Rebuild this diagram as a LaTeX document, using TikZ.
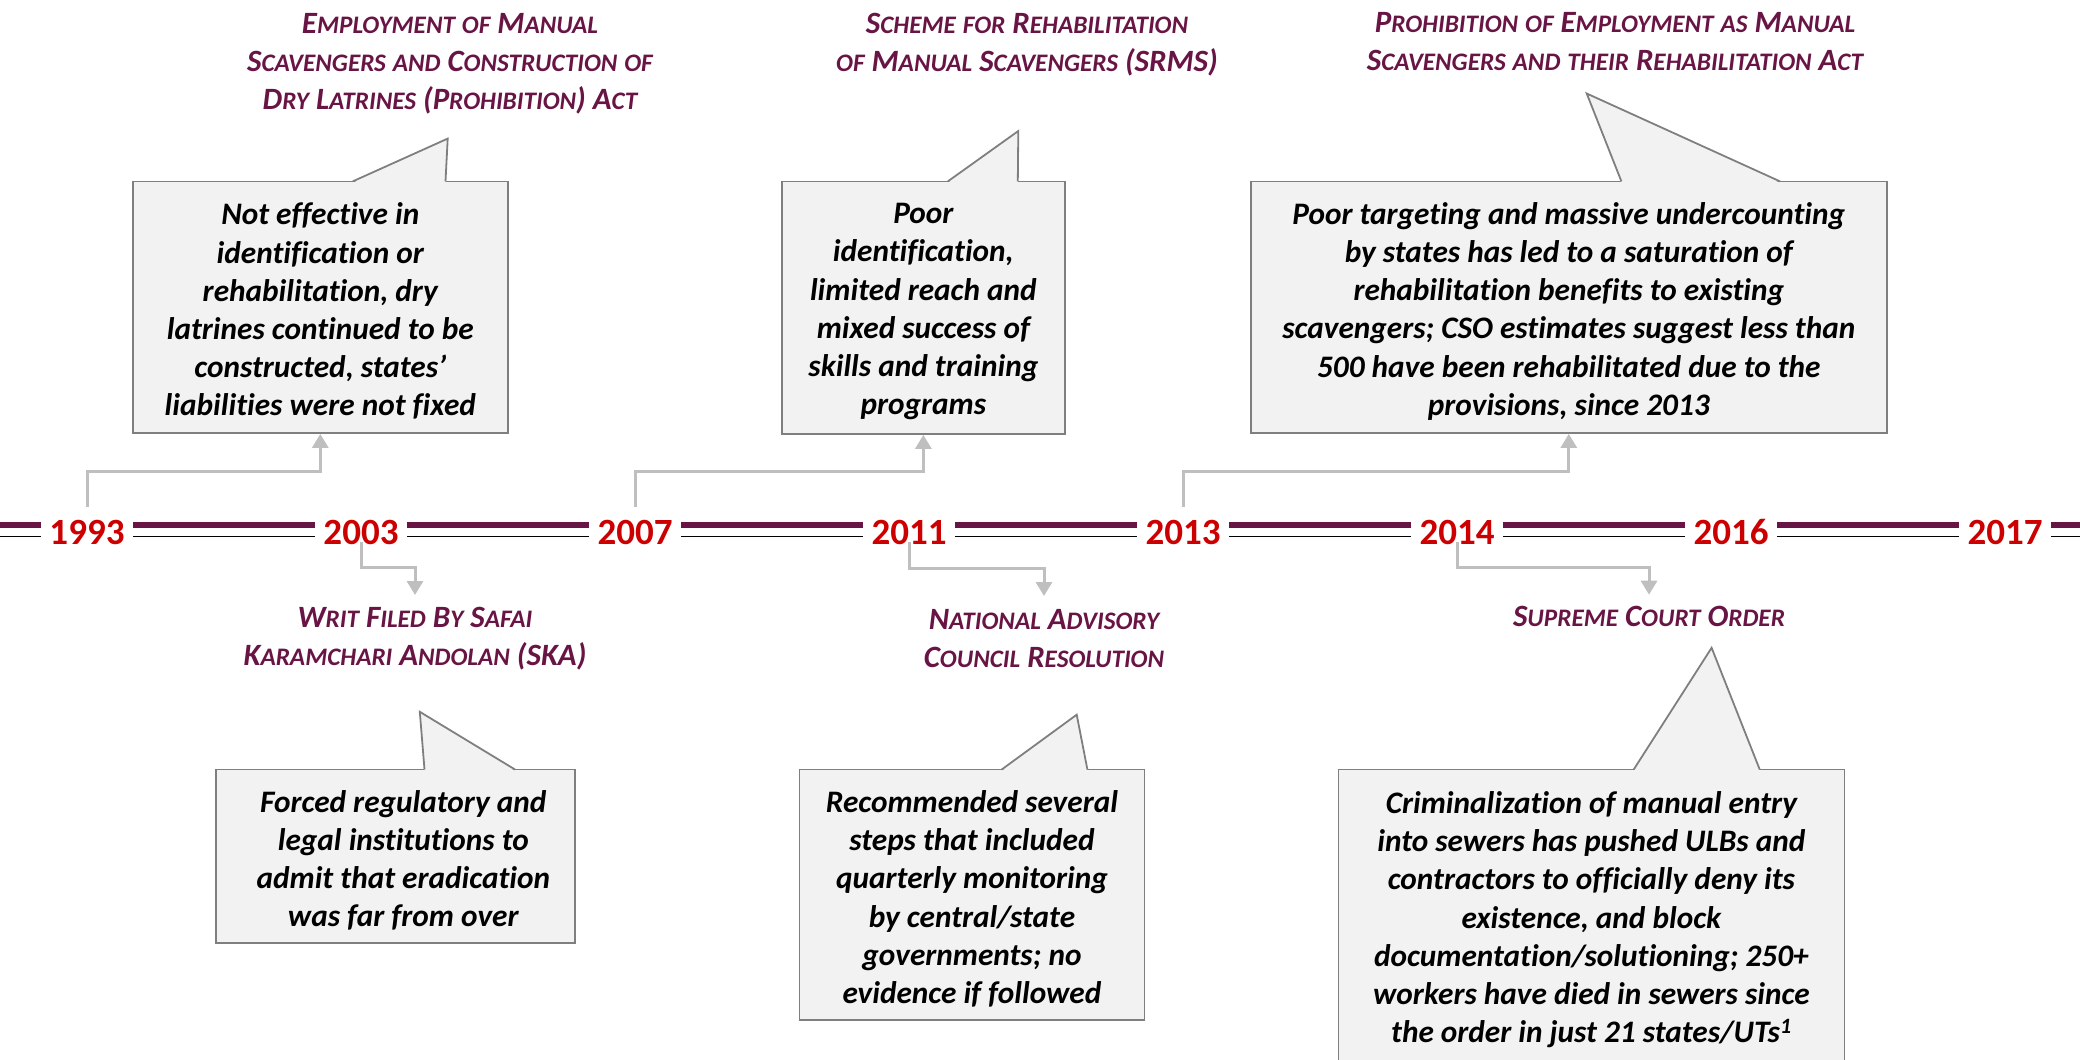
\documentclass[tikz,border=0pt]{standalone}
\usepackage{fontspec}
\setmainfont{Carlito}[Ligatures={NoCommon}]
\usetikzlibrary{arrows.meta}
\definecolor{maroon}{RGB}{104,20,68}
\definecolor{yearred}{RGB}{204,0,0}
\definecolor{boxfill}{RGB}{242,242,242}
\definecolor{boxline}{RGB}{127,127,127}
\definecolor{connc}{RGB}{191,191,191}
\newcommand\sca[2]{#1{\fontsize{25.2}{38}\selectfont #2}}
\newcommand\calltail[5]{%
  \fill[boxfill] (#1,#5+1.4) -- (#2,#3) -- (#4,#5+1.4) -- cycle;
  \draw[tailline] (#1,#5) -- (#2,#3) -- (#4,#5);}
\begin{document}
\begin{tikzpicture}[x=1pt,y=-1pt,
  yearlbl/.style={font=\fontsize{37}{42}\selectfont\bfseries, text=yearred, inner sep=0pt, minimum width=92pt, minimum height=50pt},
  ttl/.style={font=\fontsize{31}{38}\selectfont\bfseries\itshape, text=maroon, align=center, inner sep=0pt, anchor=north},
  callbox/.style={draw=boxline, fill=boxfill, line width=1.8pt, inner sep=0pt},
  tailline/.style={draw=boxline, line width=1.8pt, line join=miter},
  bodytxt/.style={font=\fontsize{31.3}{38.2}\selectfont\bfseries\itshape, align=center, inner sep=0pt},
  maroonline/.style={draw=maroon, line width=5.5pt},
  blackline/.style={draw=black, line width=1.6pt},
  conn/.style={draw=connc, line width=3pt, -{Triangle[length=14pt,width=16pt]}}]
\useasboundingbox (0,0) rectangle (2080,1060);
\clip (0,0) rectangle (2080,1060);

% year labels
\node[yearlbl] (y1993) at (87,532) {1993};
\node[yearlbl] (y2003) at (361,532) {2003};
\node[yearlbl] (y2007) at (635,532) {2007};
\node[yearlbl] (y2011) at (909,532) {2011};
\node[yearlbl] (y2013) at (1183,532) {2013};
\node[yearlbl] (y2014) at (1457,532) {2014};
\node[yearlbl] (y2016) at (1731,532) {2016};
\node[yearlbl] (y2017) at (2005,532) {2017};
\coordinate (tlL) at (0,532);
\coordinate (tlR) at (2080,532);

% timeline double line
\foreach \a/\b in {tlL/y1993.west, y1993.east/y2003.west, y2003.east/y2007.west, y2007.east/y2011.west, y2011.east/y2013.west, y2013.east/y2014.west, y2014.east/y2016.west, y2016.east/y2017.west, y2017.east/tlR}{
  \draw[maroonline] ([yshift=7pt]\a) -- ([yshift=7pt]\b);
  \draw[blackline] ([yshift=-4.5pt]\a) -- ([yshift=-4.5pt]\b);
}

% top callouts
\node[callbox, minimum width=375.4pt, minimum height=251.6pt] (b1) at (320.3,307.2) {};
\calltail{352.7}{447.7}{138.6}{445.5}{181.4}
\node[bodytxt] (b1t) at ([yshift=-4pt]b1.center) {Not effective in\\identification or\\rehabilitation, dry\\latrines continued to be\\constructed, states’\\liabilities were not fixed};

\node[callbox, minimum width=283.3pt, minimum height=252.6pt] (b2) at (923.35,307.7) {};
\calltail{947.8}{1018.3}{131}{1017.8}{181.4}
\node[bodytxt] (b2t) at ([yshift=-4pt]b2.center) {Poor\\identification,\\limited reach and\\mixed success of\\skills and training\\programs};

\node[callbox, minimum width=636.4pt, minimum height=251.6pt] (b3) at (1568.8,307.2) {};
\calltail{1621.4}{1586.7}{93.5}{1780}{181.4}
\node[bodytxt] (b3t) at ([yshift=-4pt]b3.center) {Poor targeting and massive undercounting\\by states has led to a saturation of\\rehabilitation benefits to existing\\scavengers; CSO estimates suggest less than\\500 have been rehabilitated due to the\\provisions, since 2013};

% bottom callouts
\node[callbox, minimum width=359.4pt, minimum height=173.5pt] (b4) at (395.3,856.25) {};
\calltail{424.5}{419.8}{711.8}{515}{769.5}
\node[bodytxt] (b4t) at ([xshift=8pt,yshift=-4pt]b4.center) {Forced regulatory and\\legal institutions to\\admit that eradication\\was far from over};

\node[callbox, minimum width=344.9pt, minimum height=250.5pt] (b5) at (971.95,894.75) {};
\calltail{1001.7}{1076.7}{714.7}{1087.4}{769.5}
\node[bodytxt] (b5t) at ([yshift=-4pt]b5.center) {Recommended several\\steps that included\\quarterly monitoring\\by central/state\\governments; no\\evidence if followed};

\node[callbox, minimum width=506pt, minimum height=292.5pt] (b6) at (1591.4,915.75) {};
\calltail{1633.7}{1711.6}{647.8}{1759.7}{769.5}
\node[bodytxt] (b6t) at ([yshift=-4pt]b6.center) {Criminalization of manual entry\\into sewers has pushed ULBs and\\contractors to officially deny its\\existence, and block\\documentation/solutioning; 250+\\workers have died in sewers since\\the order in just 21 states/UTs\textsuperscript{1}};

% titles
\node[ttl] (t1) at (450,13) {\sca{E}{MPLOYMENT} \sca{}{OF} \sca{M}{ANUAL}\\\sca{S}{CAVENGERS} \sca{}{AND} \sca{C}{ONSTRUCTION} \sca{}{OF}\\\sca{D}{RY} \sca{L}{ATRINES} (\sca{P}{ROHIBITION}) \sca{A}{CT}};
\node[ttl] (t2) at (1027,13) {\sca{S}{CHEME} \sca{}{FOR} \sca{R}{EHABILITATION}\\\sca{}{OF} \sca{M}{ANUAL} \sca{S}{CAVENGERS} (SRMS)};
\node[ttl] (t3) at (1615,12) {\sca{P}{ROHIBITION} \sca{}{OF} \sca{E}{MPLOYMENT} \sca{}{AS} \sca{M}{ANUAL}\\\sca{S}{CAVENGERS} \sca{}{AND} \sca{}{THEIR} \sca{R}{EHABILITATION} \sca{A}{CT}};
\node[ttl] (t4) at (415,607) {\sca{W}{RIT} \sca{F}{ILED} \sca{B}{Y} \sca{S}{AFAI}\\\sca{K}{ARAMCHARI} \sca{A}{NDOLAN} (SKA)};
\node[ttl] (t5) at (1044,609.6) {\sca{N}{ATIONAL} \sca{A}{DVISORY}\\\sca{C}{OUNCIL} \sca{R}{ESOLUTION}};
\node[ttl] (t6) at (1649,606) {\sca{S}{UPREME} \sca{C}{OURT} \sca{O}{RDER}};

% connectors
\draw[conn] (y1993.north) |- ([yshift=-38pt]b1.south) -- (b1.south);
\draw[conn] (y2007.north) |- ([yshift=-37pt]b2.south) -- (b2.south);
\draw[conn] (y2013.north) |- ([yshift=-38pt]b3.south) -- (b3.south);
\draw[conn] ([yshift=-10pt]y2003.center) |- ([yshift=40pt]t4.north) -- ([yshift=12pt]t4.north);
\draw[conn] ([yshift=-10pt]y2011.center) |- ([yshift=41.6pt]t5.north) -- ([yshift=13.6pt]t5.north);
\draw[conn] ([yshift=-10pt]y2014.center) |- ([yshift=39pt]t6.north) -- ([yshift=11.3pt]t6.north);
\end{tikzpicture}
\end{document}
